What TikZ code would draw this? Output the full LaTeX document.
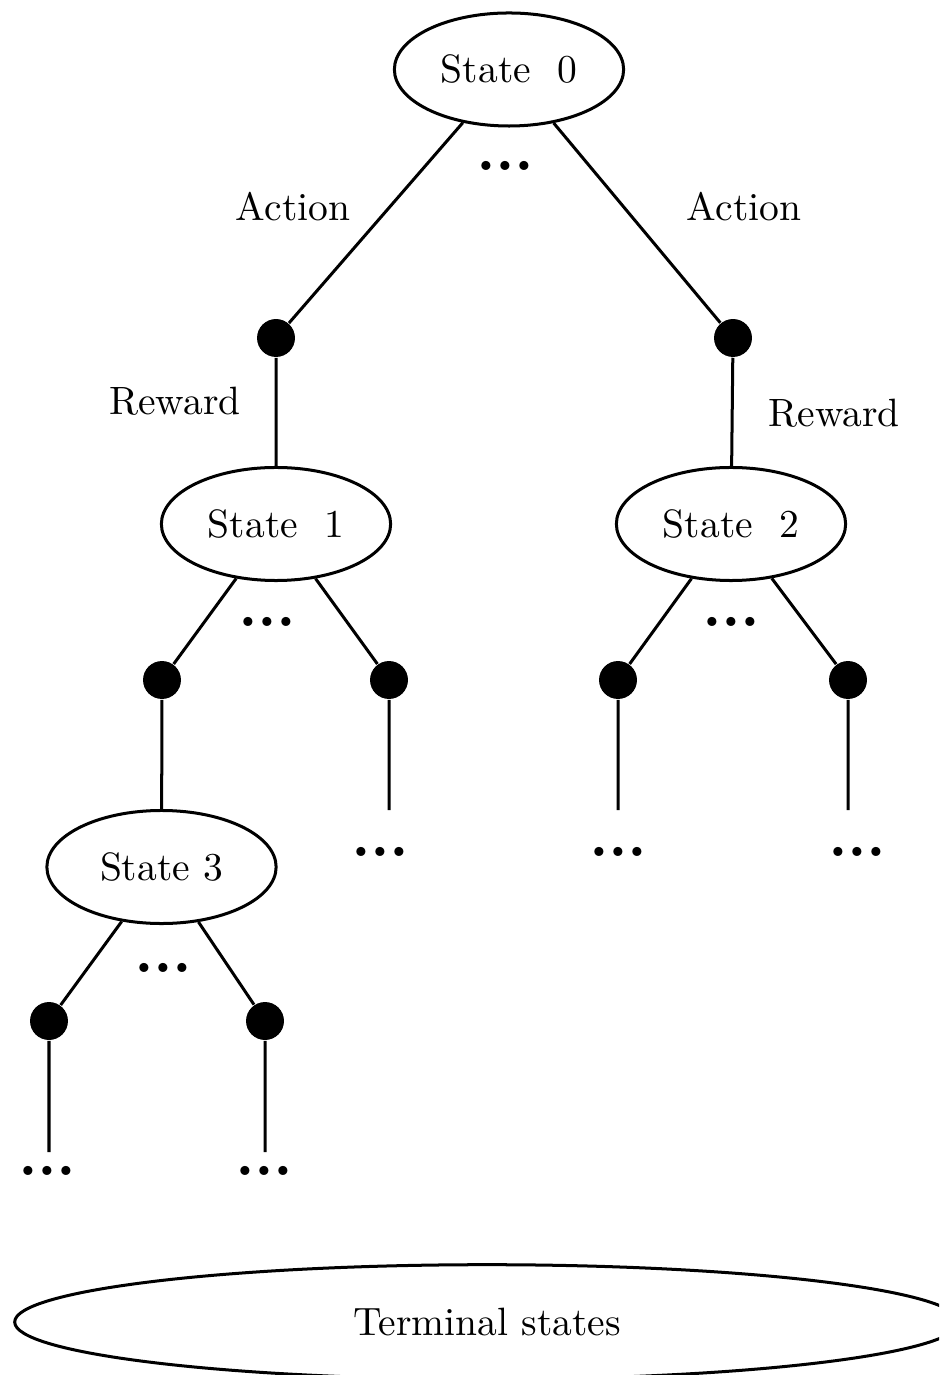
\documentclass[tikz,border=0pt]{standalone}
\usetikzlibrary{shapes.geometric}

% a row of three heavy dots for omitted branches
\newcommand\dotrun{{\fontsize{16}{18}\selectfont\bfseries .\kern-0.2pt.\kern-0.2pt.}}

\tikzset{
  state/.style={ellipse, draw, line width=0.76pt, inner sep=0pt,
                minimum width=58pt, minimum height=28.6pt},
  leaf/.style={circle, fill, inner sep=0pt, minimum size=9.6pt},
  edge/.style={line width=0.76pt},
  more/.style={inner sep=0pt, anchor=south},
  lbl/.style={inner sep=0pt},
}

\begin{document}
\begin{tikzpicture}[x=0.253pt, y=-0.253pt]
  \useasboundingbox (0,0) rectangle (939,1375);
  \clip (0,0) rectangle (939,1375);

  % states
  \node[state] (s0) at (509,69.5) {State\ \ 0};
  \node[state] (s1) at (276,524)  {State\ \ 1};
  \node[state] (s2) at (731,524)  {State\ \ 2};
  \node[state] (s3) at (161.5,867) {State 3};

  % action nodes
  \node[leaf] (a0l) at (276,338) {};
  \node[leaf] (a0r) at (733,338) {};
  \node[leaf] (a1l) at (162,680) {};
  \node[leaf] (a1r) at (389,680) {};
  \node[leaf] (a2l) at (618,680) {};
  \node[leaf] (a2r) at (848,680) {};
  \node[leaf] (a3l) at (49,1021)  {};
  \node[leaf] (a3r) at (265,1021) {};

  % open ends
  \coordinate (e1r) at (389,810);
  \coordinate (e2l) at (618,810);
  \coordinate (e2r) at (848,810);
  \coordinate (e3l) at (49,1152);
  \coordinate (e3r) at (265,1152);

  % edges
  \draw[edge] (s0) -- (a0l) -- (s1);
  \draw[edge] (s0) -- (a0r) -- (s2);
  \draw[edge] (s1) -- (a1l) -- (s3);
  \draw[edge] (s1) -- (a1r) -- (e1r);
  \draw[edge] (s2) -- (a2l) -- (e2l);
  \draw[edge] (s2) -- (a2r) -- (e2r);
  \draw[edge] (s3) -- (a3l) -- (e3l);
  \draw[edge] (s3) -- (a3r) -- (e3r);

  % labels
  \node[lbl] (act0l) at (293,207) {Action};
  \node[lbl] (act0r) at (744,207) {Action};
  \node[lbl] (rew0l) at (175,401) {Reward};
  \node[lbl] (rew0r) at (834,413) {Reward};

  % omitted branches
  \node[more] (m0)  at (505,171.7) {\dotrun};
  \node[more] (m1)  at (267,627)   {\dotrun};
  \node[more] (m2)  at (731,627)   {\dotrun};
  \node[more] (m1r) at (380,857.7) {\dotrun};
  \node[more] (m2l) at (618,857.7) {\dotrun};
  \node[more] (m2r) at (857,857.7) {\dotrun};
  \node[more] (m3)  at (163,973)   {\dotrun};
  \node[more] (m3l) at (47,1176.7) {\dotrun};
  \node[more] (m3r) at (264,1176.7) {\dotrun};

  % terminal states
  \node[ellipse, draw, line width=0.76pt, inner sep=0pt,
        minimum width=239pt, minimum height=29pt] (term) at (487,1322) {Terminal states};
\end{tikzpicture}
\end{document}
